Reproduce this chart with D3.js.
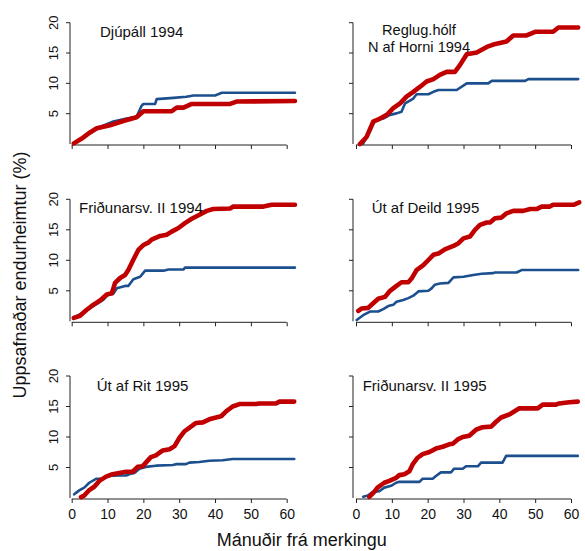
<!DOCTYPE html>
<html><head><meta charset="utf-8">
<script src="https://cdn.jsdelivr.net/npm/d3@7"></script>
<style>body{margin:0;background:#fff}svg{display:block}text{font-family:"Liberation Sans",Arial,sans-serif;fill:#111}</style>
</head><body><svg id="c" width="585" height="551"></svg>
<script>
// ---- data: [month, cumulative recapture %] ----
const titles = [["Djúpáll 1994"],["Reglug.hólf","N af Horni 1994"],["Friðunarsv. II 1994"],["Út af Deild 1995"],["Út af Rit 1995"],["Friðunarsv. II 1995"]];
const xTicks = [0,10,20,30,40,50,60];
const yTicks = [5,10,15,20];

const p1Red = [[0.6,0.1],[2.8,0.9],[5.1,1.9],[7,2.6],[10.7,3.1],[14.4,3.8],[18.1,4.4],[20,5.4],[27.9,5.4],[29.3,6.0],[31.2,6.0],[33.5,6.6],[44.2,6.6],[46,7.0],[62.3,7.1]];
const p1Blue = [[0.8,0.1],[5.1,1.8],[7.9,2.8],[11.6,3.7],[15.3,4.2],[18.1,4.5],[19.5,6.3],[20,6.6],[23.3,6.6],[23.7,7.4],[28.4,7.6],[32,7.8],[34,8.0],[40,8.0],[41.9,8.45],[62.3,8.45]];
const p2Red = [[1.1,0],[3,1.2],[4.8,3.7],[6.7,4.2],[8.6,4.8],[10.4,5.9],[12.3,6.7],[14.1,7.8],[16,8.6],[17.9,9.45],[19.7,10.3],[21.6,10.7],[23.4,11.4],[25.3,11.9],[27.6,11.9],[29,13],[30.9,14.8],[33.7,15.1],[36.5,16],[38.3,16.4],[42,16.9],[43.9,17.9],[47.6,17.9],[50,18.5],[55,18.5],[56.5,19.2],[62,19.2]];
const p2Blue = [[1.9,0],[3.4,1.5],[5.3,3.85],[7.6,4.2],[9.5,4.8],[11.3,5.05],[12.7,5.3],[13.7,6.7],[16,7.5],[16.9,8.2],[20.2,8.2],[21.6,8.6],[23,8.9],[28.1,8.9],[30.9,10.0],[36.9,10.0],[37.9,10.4],[47.2,10.4],[48.1,10.7],[62,10.7]];
const p3Red = [[0.6,0.55],[2.3,0.9],[4.2,1.9],[6,2.7],[7.9,3.4],[9.8,4.4],[11.2,4.6],[12.1,6.3],[13.5,7.1],[14.9,7.6],[15.8,8.4],[17.2,10.1],[18.6,11.7],[20,12.5],[21.4,12.9],[22.3,13.4],[24.7,14.0],[26.5,14.2],[27.9,14.7],[29.8,15.3],[31.6,16.1],[33.5,16.8],[35.8,17.5],[37.7,18.1],[39.5,18.4],[44.2,18.5],[45.1,18.8],[53.5,18.8],[55.8,19.1],[62.3,19.1]];
const p3Blue = [[0.9,0.7],[3.3,1.4],[6,2.5],[8.8,3.5],[10.2,4.4],[11.6,4.5],[12.6,5.4],[14.9,5.8],[15.8,5.8],[17.2,6.9],[19.1,7.3],[20.5,8.3],[25.6,8.3],[27,8.5],[31.2,8.5],[31.6,8.8],[62.3,8.8]];
const p4Red = [[0.65,1.7],[1.6,2.1],[3.4,2.2],[4.8,2.95],[6.2,3.7],[8.1,4.0],[9.5,5.0],[11.3,5.8],[12.7,6.4],[14.6,6.4],[15.5,7.0],[16.9,8.4],[18.8,9.2],[20.2,10.05],[21.6,10.9],[23,11.1],[24.8,11.8],[27.2,12.35],[28.6,12.8],[30,13.6],[31.8,13.9],[33.2,15.0],[34.6,15.8],[36.5,16.2],[37.4,16.2],[38.8,16.9],[40.6,17.0],[42,17.7],[43.9,18.1],[46.7,18.1],[48.6,18.4],[50.4,18.4],[51.8,18.8],[54.1,18.8],[55,19.1],[60.7,19.1],[62.3,19.5]];
const p4Blue = [[0.2,0.2],[2,1.0],[3.9,1.6],[6.2,1.6],[7.6,2.0],[9,2.5],[10.4,2.7],[11.3,3.2],[13.2,3.5],[14.6,3.8],[16,4.2],[17.4,4.9],[20.2,5.0],[21.1,5.4],[22,6.0],[23.4,6.2],[25.8,6.3],[27.2,7.2],[30,7.3],[32.7,7.6],[35.1,7.8],[38.3,7.9],[38.8,8.0],[44.8,8.0],[46.2,8.4],[62,8.4]];
const p5Red = [[2.6,0.15],[3.5,0.4],[4.9,1.3],[6.3,1.85],[7.7,2.8],[9.6,3.5],[11.4,3.9],[13.3,4.1],[15.2,4.3],[17,4.3],[18.4,5.1],[19.8,5.2],[20.7,5.8],[22.1,6.7],[23.5,7.0],[25.4,7.8],[27.3,8.0],[28.7,8.5],[30,9.8],[31.4,10.9],[32.8,11.5],[34.7,12.3],[36.6,12.4],[38.4,12.9],[40.3,13.2],[41.7,13.4],[43.1,14.2],[44.9,15.0],[46.8,15.4],[51.4,15.4],[52.4,15.5],[57,15.5],[58,15.8],[62.1,15.8]];
const p5Blue = [[0.7,0.6],[2.1,1.25],[3.5,1.7],[4.9,2.5],[6.8,3.15],[8.7,3.15],[10,3.6],[13.3,3.7],[15.2,3.7],[16.6,4.0],[17.5,4.1],[18.9,4.8],[20.7,5.1],[23.5,5.3],[28.2,5.4],[29.1,5.55],[31.9,5.55],[32.8,5.8],[35.6,5.9],[38.4,6.1],[42.1,6.2],[44.9,6.4],[62.1,6.4]];
const p6Red = [[3.7,0.2],[5.1,1.0],[6,1.7],[7.9,2.5],[9.3,2.8],[11.2,3.3],[12.1,3.75],[13.5,3.9],[14.9,4.4],[15.8,5.5],[17.2,6.6],[18.6,7.2],[20.5,7.55],[22.3,8.1],[24.2,8.4],[26,8.8],[27,8.9],[28.4,9.6],[29.8,10.0],[31.6,10.2],[33.5,11.2],[35.3,11.6],[37.7,11.7],[39.1,12.5],[40.5,13.2],[42.8,13.7],[45.6,14.7],[50.7,14.7],[52.1,15.3],[55.8,15.3],[56.7,15.5],[59.5,15.7],[61.9,15.8]];
const p6Blue = [[2,0.2],[3.3,0.4],[4.7,1.0],[6.5,1.1],[7.9,1.7],[9.8,2.0],[11.2,2.5],[12.1,2.65],[17.7,2.65],[18.6,3.15],[21.4,3.15],[22.3,3.6],[23.7,4.2],[26.5,4.2],[27.4,4.8],[29.8,4.8],[30.7,5.2],[34,5.2],[34.9,5.8],[40.9,5.8],[41.9,6.9],[61.9,6.9]];

const redSeries = [p1Red,p2Red,p3Red,p4Red,p5Red,p6Red];
const blueSeries = [p1Blue,p2Blue,p3Blue,p4Blue,p5Blue,p6Blue];

// ---- layout ----
const RED = "#c00000", BLUE = "#1c4f8e";
const colX = [[71.7,286.7,70],[356,571,353]];       // x(0), x(60), y-axis line x
const rowY = [[144,22.7],[321.3,199.3],[498,376]];  // y(0), y(20)
const titlePos = [[100,36.7,"start"],[419,35.3,"middle"],[79,213.3,"start"],[371.7,213.3,"start"],[96.7,390.7,"start"],[362.7,390.7,"start"]];

const svg = d3.select("#c");

for (let i = 0; i < 6; i++) {
  const c = i % 2, r = Math.floor(i / 2);
  const x = d3.scaleLinear().domain([0,60]).range([colX[c][0], colX[c][1]]);
  const y = d3.scaleLinear().domain([0,20]).range([rowY[r][0], rowY[r][1]]);
  const g = svg.append("g");

  // y axis
  const ya = d3.axisLeft(y).tickValues(yTicks).tickSize(4).tickPadding(4)
    .tickFormat(c === 0 ? d3.format("d") : () => "");
  const yg = g.append("g").attr("transform", `translate(${colX[c][2]},0)`);
  yg.call(ya);
  yg.select(".domain").attr("d", `M0,${y(0)}V${y(20)}`);
  yg.selectAll("line,path").attr("stroke", "#222").attr("stroke-width", 1);
  yg.selectAll(".tick").attr("transform", null);
  yg.selectAll(".tick line").attr("y1", d => y(d)).attr("y2", d => y(d));
  yg.selectAll(".tick text").attr("font-size", 13).attr("fill", "#111")
    .attr("x", 0).attr("y", 0).attr("dy", "0.35em").attr("text-anchor", "middle")
    .attr("transform", d => `translate(-17,${y(d)}) rotate(-90)`);

  // x axis
  const xa = d3.axisBottom(x).tickValues(xTicks).tickSize(4).tickPadding(6)
    .tickFormat(r === 2 ? d3.format("d") : () => "");
  const xg = g.append("g").attr("transform", `translate(0,${y(0) + 1})`).call(xa);
  xg.select(".domain").attr("d", `M${x(0)},0H${x(60)}`);
  xg.selectAll("line,path").attr("stroke", "#222").attr("stroke-width", 1);
  xg.selectAll(".tick text").attr("font-size", 14).attr("fill", "#111");

  const line = d3.line().x(d => x(d[0])).y(d => y(d[1])).curve(d3.curveLinear);
  g.append("path").datum(blueSeries[i]).attr("d", line).attr("fill", "none")
    .attr("stroke", BLUE).attr("stroke-width", 2.6).attr("stroke-linejoin", "round").attr("stroke-linecap", "round");
  g.append("path").datum(redSeries[i]).attr("d", line).attr("fill", "none")
    .attr("stroke", RED).attr("stroke-width", 4.6).attr("stroke-linejoin", "round").attr("stroke-linecap", "round");

  titles[i].forEach((s, k) => {
    g.append("text").attr("x", titlePos[i][0]).attr("y", titlePos[i][1] + k * 17)
      .attr("text-anchor", titlePos[i][2]).attr("font-size", titles[i].length > 1 ? 14.6 : 15).text(s);
  });
}

svg.append("text").attr("transform", "translate(26,275) rotate(-90)").attr("text-anchor", "middle")
  .attr("font-size", 18).text("Uppsafnaðar endurheimtur (%)");
svg.append("text").attr("x", 301.7).attr("y", 546).attr("text-anchor", "middle")
  .attr("font-size", 18).text("Mánuðir frá merkingu");
</script></body></html>
